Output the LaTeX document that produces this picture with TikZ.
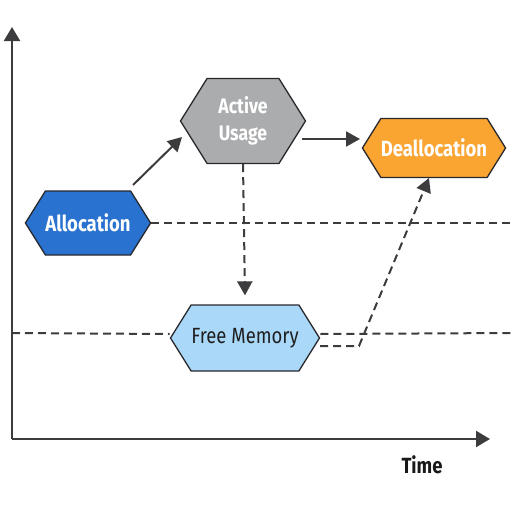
\documentclass[tikz,border=0pt]{standalone}
\usepackage{fontspec}
\setmainfont{Fira Sans}[FakeStretch=0.84]
\usetikzlibrary{shapes.symbols,arrows.meta,calc}
\definecolor{ablue}{RGB}{42,114,207}
\definecolor{agray}{RGB}{170,172,174}
\definecolor{aorange}{RGB}{250,164,50}
\definecolor{alight}{RGB}{170,216,248}
\definecolor{edge}{RGB}{40,40,44}
\definecolor{ink}{RGB}{60,60,62}
\tikzset{
  hexa/.style={signal, signal to=east and west, signal pointer angle=116,
    draw=edge, line width=1.3pt, inner sep=0pt, align=center},
  lbl/.style={font=\fontsize{22}{27}\selectfont\bfseries, text=white},
  arr/.style={draw=ink, line width=2pt, -{Triangle[length=14pt,width=15pt]}},
  darr/.style={draw=ink, line width=2pt, dash pattern=on 8pt off 5pt, -{Triangle[length=14pt,width=15pt]}},
  dline/.style={draw=ink, line width=2pt, dash pattern=on 8pt off 5pt},
  axis/.style={draw=ink, line width=2.2pt, -{Triangle[length=14pt,width=16pt]}}
}
\begin{document}
\begin{tikzpicture}[x=1pt,y=-1pt]
\useasboundingbox (0,0) rectangle (514,514);
% axes
\coordinate (O) at (12,439);
\coordinate (ytip) at (12,27);
\coordinate (xtip) at (490,439);
\draw[axis] (O) -- (ytip);
\draw[axis] (O) -- (xtip);
\node[font=\fontsize{22}{24}\selectfont\bfseries, text=black!90] (time) at (422,465) {Time};
% states
\node[hexa, fill=ablue, lbl, minimum width=123pt, minimum height=64pt] (alloc) at (88,223) {Allocation};
\node[hexa, fill=agray, lbl, font=\fontsize{21}{27}\selectfont\bfseries, minimum width=125pt, minimum height=85pt] (active) at (243,121) {Active\\Usage};
\node[hexa, fill=aorange, lbl, minimum width=143pt, minimum height=59pt] (dealloc) at (434,148) {Deallocation};
\node[hexa, fill=alight, font=\fontsize{22}{27}\selectfont, text=black!88, minimum width=149pt, minimum height=66pt] (free) at (245,338) {Free Memory};
% dashed level lines
\coordinate (r1) at (514,223);
\coordinate (l2) at (12,333);
\coordinate (r2) at (514,333);
\draw[dline] (alloc.east) -- (r1);
\draw[dline] (l2) -- ($(free.west)+(0,-4)$);
\draw[dline] ($(free.east)+(0,-4)$) -- (r2);
% connectors
\draw[arr] ($(alloc.center)+(45,-38)$) -- ($(active.center)+(-61,16)$);
\draw[arr] ($(active.center)+(59,18)$) -- ($(dealloc.center)+(-74,-9)$);
\draw[darr] (active.south) -- ($(free.north)+(0,-9)$);
\coordinate (bend) at (359,346);
\draw[darr] ($(free.center)+(75,8)$) -- (bend) -- ($(dealloc.center)+(-5,30)$);
\end{tikzpicture}
\end{document}
